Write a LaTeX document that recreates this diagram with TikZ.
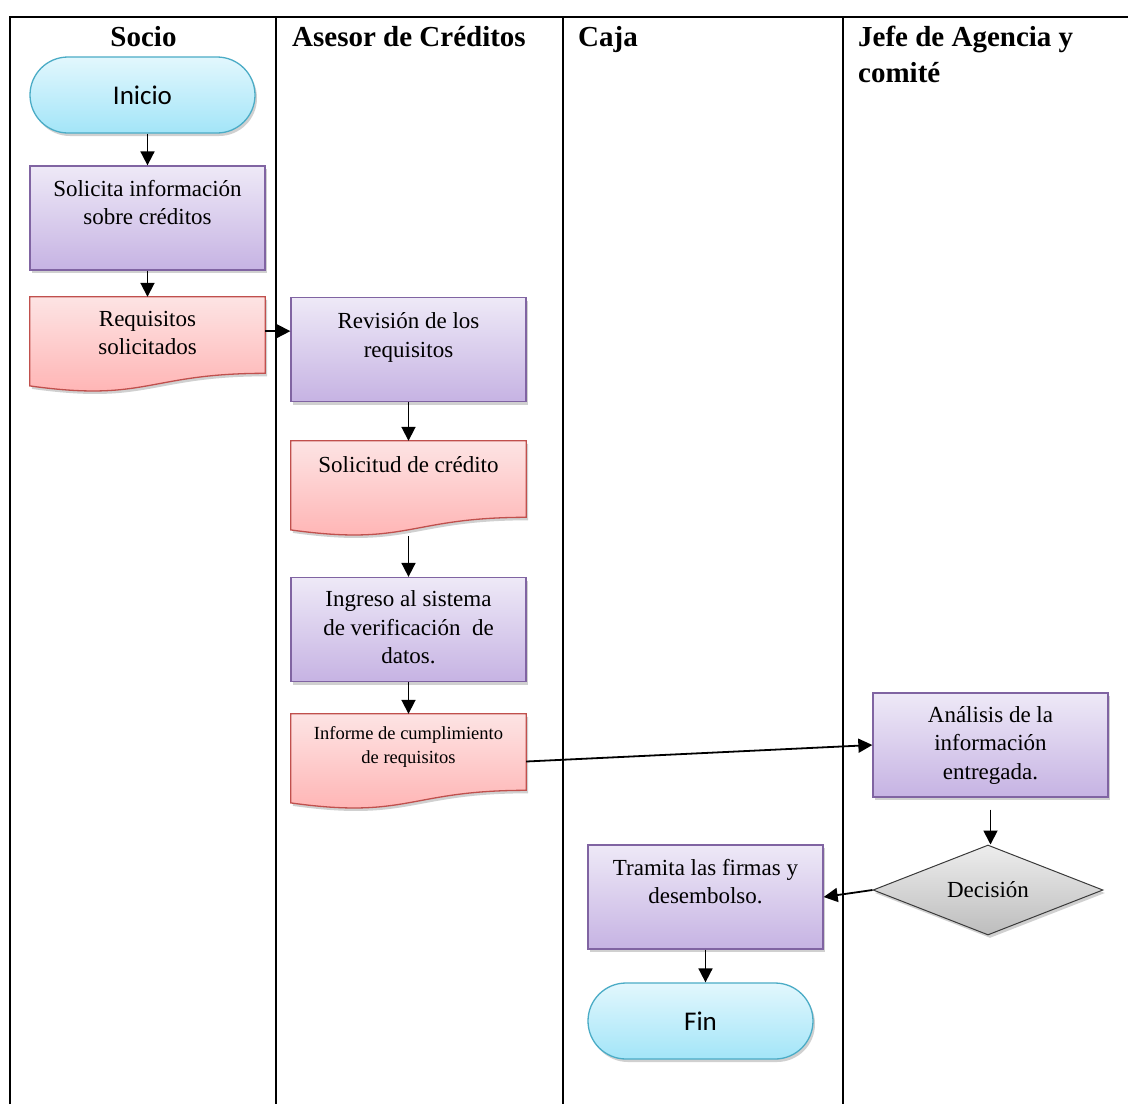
\documentclass[tikz,border=0pt]{standalone}
\usepackage{fontspec}
\setmainfont{Liberation Serif}
\newfontfamily\calib{Carlito}
\usetikzlibrary{arrows.meta,calc,shapes.geometric,shadows,backgrounds}

\definecolor{procTop}{HTML}{EEE9F7}
\definecolor{procBot}{HTML}{C6B3E3}
\definecolor{procLine}{HTML}{8064A2}
\definecolor{docTop}{HTML}{FDE4E4}
\definecolor{docBot}{HTML}{FFB0B0}
\definecolor{docLine}{HTML}{C0504D}
\definecolor{termTop}{HTML}{E2F7FD}
\definecolor{termBot}{HTML}{A3E5F8}
\definecolor{termLine}{HTML}{4BACC6}
\definecolor{decTop}{HTML}{EDEDED}
\definecolor{decBot}{HTML}{BDBDBD}
\definecolor{decLine}{HTML}{3A3A3A}

% text set from the top of a box: height, first-baseline drop, lines
\newcommand\boxtext[3]{\parbox[c][#1][t]{225pt}{\centering\rule{0pt}{#2}#3\par}}

% flowchart "document" outline with a wavy lower edge
\newcommand\docshape[1]{%
  \path[docfill] (#1.north west) -- (#1.north east)
    -- ($(#1.north east)!0.802!(#1.south east)$)
    .. controls ($(#1.north)!0.802!(#1.south)$) and ($(#1.north)!1.107!(#1.south)$)
    .. ($(#1.north west)!0.934!(#1.south west)$) -- cycle;}

\tikzset{
  box shadow/.style={drop shadow={shadow xshift=2pt,shadow yshift=-3pt,opacity=0.3,fill=black!60}},
  lane/.style={line width=1.4pt,black},
  header/.style={font=\bfseries\fontsize{29}{36}\selectfont,inner sep=0pt},
  bodyfont/.style={font=\fontsize{23}{28.5}\selectfont},
  process/.style={rectangle,inner sep=0pt,minimum width=235pt,minimum height=104pt,
    top color=procTop,bottom color=procBot,draw=procLine,line width=1.3pt,box shadow,bodyfont},
  document/.style={rectangle,inner sep=0pt,minimum width=235pt,minimum height=95pt,bodyfont},
  docfill/.style={top color=docTop,bottom color=docBot,draw=docLine,line width=1.3pt,box shadow},
  terminal/.style={rectangle,rounded corners=38pt,minimum width=225pt,minimum height=76pt,
    top color=termTop,bottom color=termBot,draw=termLine,line width=1.3pt,box shadow,
    font=\calib\fontsize{27}{30}\selectfont},
  decision/.style={diamond,aspect=2.55,inner sep=0pt,minimum width=230pt,minimum height=90pt,
    top color=decTop,bottom color=decBot,draw=decLine,line width=1pt,box shadow,bodyfont},
  flow/.style={line width=1.8pt,black,-{Triangle[length=14pt,width=14pt]}}
}

\begin{document}
\begin{tikzpicture}[x=1pt,y=-1pt]
\useasboundingbox (0,0) rectangle (1128,1104);

% swimlanes
\begin{scope}[on background layer]
  \fill[white] (0,0) rectangle (1128,1104);
  \draw[lane] (10,1104) -- (10,17) -- (1128,17);
  \draw[lane] (276,17) -- (276,1104);
  \draw[lane] (563,17) -- (563,1104);
  \draw[lane] (843,17) -- (843,1104);
\end{scope}

% lane titles
\node[header,anchor=base] (hsocio) at (143.5,46) {Socio};
\node[header,anchor=base west] (hasesor) at (292,46) {Asesor de Créditos};
\node[header,anchor=base west] (hcaja) at (578,46) {Caja};
\node[header,anchor=base west] (hjefe) at (858,46)
  {\parbox[t]{260pt}{Jefe de Agencia y\\comité}};

% Socio
\node[terminal] (ini) at (142.5,95) {Inicio};
\node[process] (sol) at (147.5,218) {\boxtext{104pt}{30pt}{Solicita información\\sobre créditos}};
\node[document] (req) at (147.5,344.5) {\boxtext{95pt}{29pt}{Requisitos\\solicitados}};

% Asesor de Créditos
\node[process] (rev) at (408.5,349.5) {\boxtext{104pt}{31pt}{Revisión de los\\requisitos}};
\node[document] (sdc) at (408.5,488.5) {\boxtext{95pt}{31pt}{Solicitud de crédito}};
\node[process] (ing) at (408.5,629.5) {\boxtext{104pt}{29pt}{Ingreso al sistema\\de verificación\ \ de\\datos.}};
\node[document,font=\fontsize{18.5}{24}\selectfont] (inf) at (408.5,761.5)
  {\boxtext{95pt}{25pt}{Informe de cumplimiento\\de requisitos}};

% Jefe de Agencia y comité
\node[process] (ana) at (990.5,745) {\boxtext{104pt}{29pt}{Análisis de la\\información\\entregada.}};
\node[decision] (dec) at (988,890) {Decisión};

% Caja
\node[process] (tra) at (705.5,897) {\boxtext{104pt}{30pt}{Tramita las firmas y\\desembolso.}};
\node[terminal] (fin) at (700.5,1021) {Fin};

% document outlines behind their text
\begin{scope}[on background layer]
  \docshape{req}
  \docshape{sdc}
  \docshape{inf}
\end{scope}

% connectors
\coordinate (reqout) at ($(req.north east)!0.36!(req.south east)$);
\draw[flow] (sol.north |- ini.south) -- (sol.north);
\draw[flow] (sol.south) -- (req.north);
\draw[flow] (reqout) -- (reqout -| rev.west);
\draw[flow] (rev.south) -- (sdc.north);
\draw[flow] (sdc.south) -- (ing.north);
\draw[flow] (ing.south) -- (inf.north);
\draw[flow] (inf.east) -- (ana.west);
\draw[flow] ([yshift=-12pt]ana.south) -- (ana.south |- dec.north);
\draw[flow] (dec.west) -- (tra.east);
\draw[flow] (tra.south) -- (tra.south |- fin.north);
\end{tikzpicture}
\end{document}
